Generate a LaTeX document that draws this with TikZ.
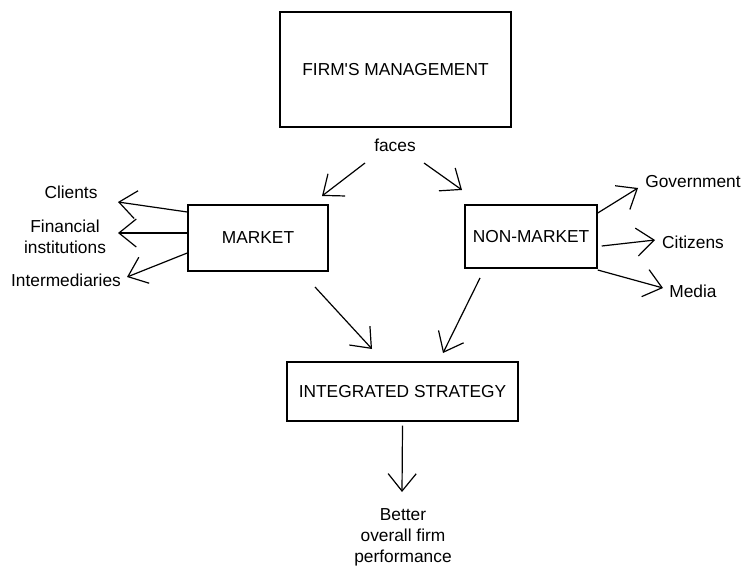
\documentclass[tikz,border=0pt]{standalone}
\usepackage{fontspec}
\setmainfont{Liberation Sans}
\usetikzlibrary{arrows.meta}

\begin{document}
\begin{tikzpicture}[x=0.75pt, y=-0.75pt,
    box/.style={draw, line width=1.1pt, inner sep=0pt, font=\fontsize{13}{15.75}\selectfont},
    lbl/.style={align=center, inner sep=0pt, font=\fontsize{13}{15.75}\selectfont},
    arr/.style={-{Straight Barb[length=13pt, width=21pt]}, line width=0.9pt}]
    \useasboundingbox (0,0) rectangle (741,566);
    % boxes
    \node[box, minimum width=173.25pt, minimum height=86.25pt] (mgmt) at (395.5,69.5) {FIRM\textquotesingle S MANAGEMENT};
    \node[box, minimum width=105pt, minimum height=49.5pt] (market) at (258,238) {MARKET};
    \node[box, minimum width=99pt, minimum height=47.25pt] (nonmarket) at (531,236.5) {NON-MARKET};
    \node[box, minimum width=173.25pt, minimum height=44.25pt] (strategy) at (402.5,391.5) {INTEGRATED STRATEGY};
    % labels
    \node[lbl] (faces) at (395,145) {faces};
    \node[lbl] (clients) at (71,192) {Clients};
    \node[lbl] (financial) at (65,237) {Financial\\institutions};
    \node[lbl] (intermed) at (66,280) {Intermediaries};
    \node[lbl] (gov) at (693,182) {Government};
    \node[lbl] (citizens) at (693,242) {Citizens};
    \node[lbl] (media) at (693,291) {Media};
    \node[lbl] (better) at (403,537) {Better\\overall firm\\performance};
    % arrow ends
    \coordinate (f1) at (365,163);
    \coordinate (f2) at (424,163);
    \coordinate (m1) at (322,196);
    \coordinate (n1) at (462,190);
    \coordinate (c1) at (118,202);
    \coordinate (c2) at (118,233);
    \coordinate (c3) at (127,277);
    \coordinate (g1) at (638,188);
    \coordinate (g2) at (655,240);
    \coordinate (g3) at (663,288);
    \coordinate (s1) at (315,287);
    \coordinate (s2) at (372,349);
    \coordinate (s3) at (480,278);
    \coordinate (s4) at (443,353);
    \coordinate (b1) at (402,492);
    % arrows
    \draw[arr] (f1) -- (m1);
    \draw[arr] (f2) -- (n1);
    \draw[arr] (market.west |- 0,212) -- (c1);
    \draw[arr] (market.west |- 0,233) -- (c2);
    \draw[arr] (market.west |- 0,253) -- (c3);
    \draw[arr] (nonmarket.east |- 0,213) -- (g1);
    \draw[arr] ([xshift=3pt]nonmarket.east |- 0,246) -- (g2);
    \draw[arr] (nonmarket.east |- 0,270) -- (g3);
    \draw[arr] (s1) -- (s2);
    \draw[arr] (s3) -- (s4);
    \draw[arr] ([yshift=-3pt]strategy.south) -- (b1);
\end{tikzpicture}
\end{document}
